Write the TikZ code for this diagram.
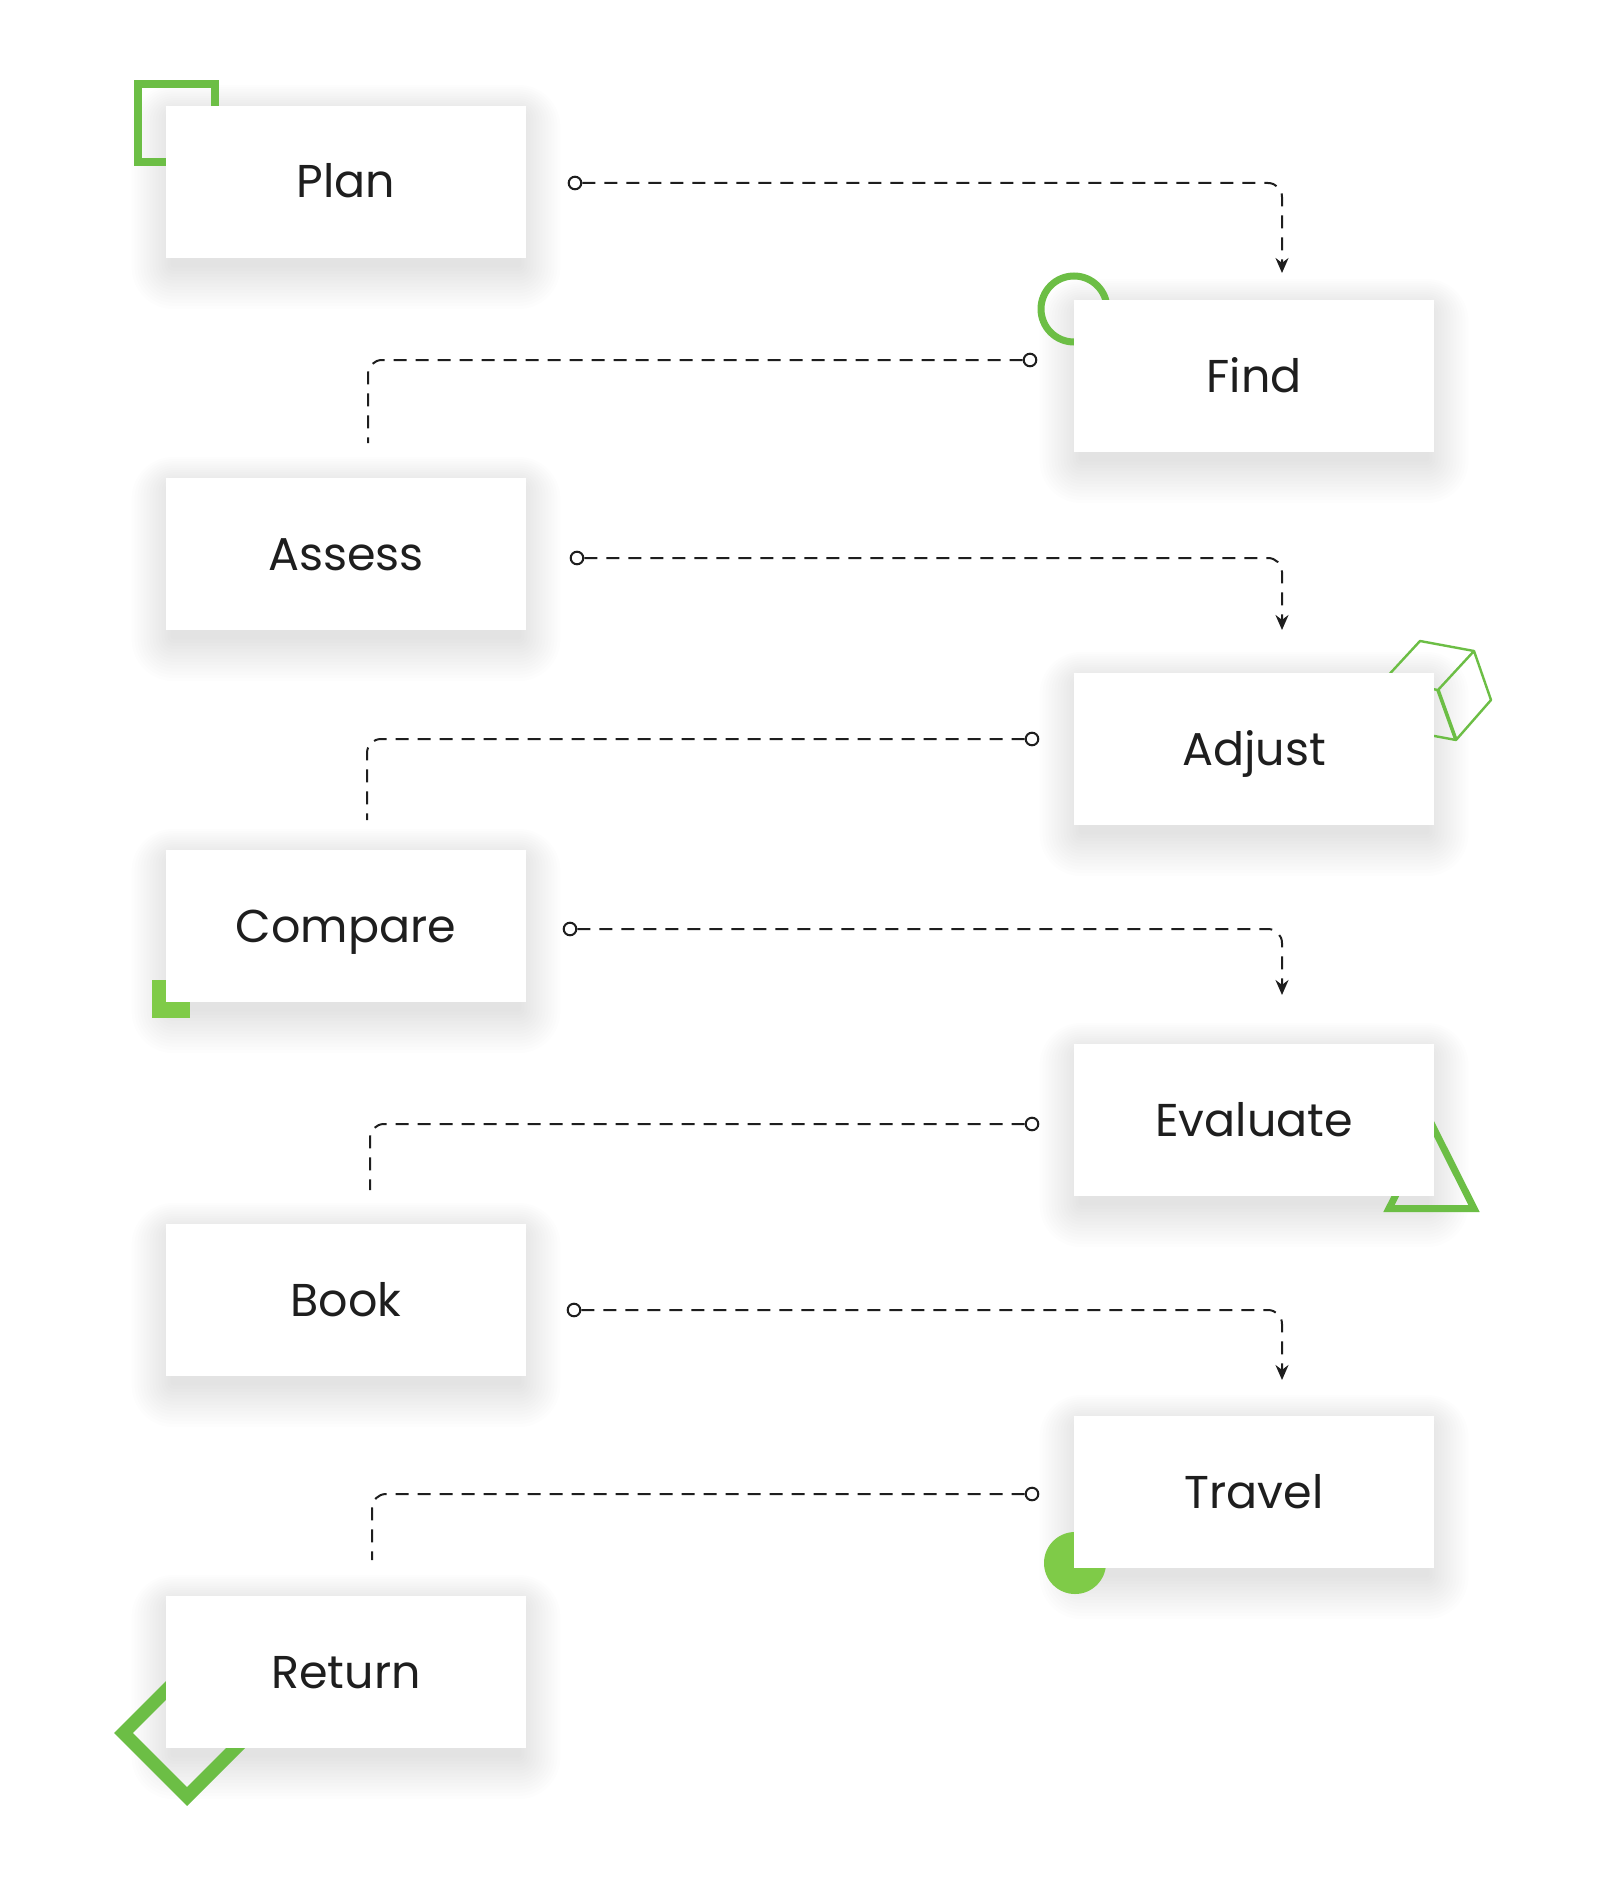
\documentclass[tikz,border=0pt]{standalone}
\usepackage{fontspec}
\setmainfont{Poppins}
\usepackage{tikz}
\usetikzlibrary{arrows.meta,calc,backgrounds}
\definecolor{leaf}{HTML}{6CBE45}
\definecolor{lime}{HTML}{7FCB48}
\definecolor{ink}{HTML}{1E1E1E}
\tikzstyle{Step}=[rectangle, minimum width=180pt, minimum height=76pt, fill=white, text=ink, font=\fontsize{23}{28}\selectfont, text height=16pt, text depth=0pt]
\tikzstyle{Dot}=[circle, draw=ink, fill=white, line width=1pt, inner sep=0pt, minimum size=6.3pt]
\tikzstyle{Link}=[draw=ink, line width=1pt, dash pattern=on 6.5pt off 4.5pt, rounded corners=7pt]
\tikzstyle{Tip}=[-{Stealth[length=7.5pt, width=6.5pt]}]

\begin{document}
\begin{tikzpicture}[x=0.5pt, y=-0.5pt]
    % green shapes behind the boxes
    \draw[leaf, line width=4.25pt] (138,84) rectangle (215,162);
    \draw[leaf, line width=3.5pt] (1074,309) circle (33);
    \draw[leaf, line width=1.2pt, line join=round] (1420,641) -- (1474,651) -- (1491,700) -- (1456,740) -- (1402,730) -- (1384,680) -- cycle
    (1438,690) -- (1474,651) (1438,690) -- (1384,680);
    \draw[leaf, line width=1.8pt] (1438,690) -- (1456,740);
    \fill[lime] (152,980) rectangle (190,1018);
    \draw[leaf, line width=3.5pt, line join=miter] (1389,1208.5) -- (1474,1208.5) -- (1431.5,1124) -- cycle;
    \fill[lime] (1075,1563) circle (31);
    \draw[leaf, line width=6.7pt, line join=miter] (123.5,1733) -- (187,1796.5) -- (250.5,1733) -- (187,1669.5) -- cycle;

    \path
    (346,182) node[Step] (plan) {Plan}
    (1254,376) node[Step] (find) {Find}
    (346,554) node[Step] (assess) {Assess}
    (1254,749) node[Step] (adjust) {Adjust}
    (346,926) node[Step] (compare) {Compare}
    (1254,1120) node[Step] (evaluate) {Evaluate}
    (346,1300) node[Step] (book) {Book}
    (1254,1492) node[Step] (travel) {Travel}
    (346,1672) node[Step] (ret) {Return};

    % page and soft shadows
    \begin{scope}[on background layer]
        \fill[white] (0,0) rectangle (1600,1878);
        \foreach \n in {plan,find,assess,adjust,compare,evaluate,book,travel,ret}
        \foreach \k in {1,...,14}
        \fill[black, opacity=0.006, rounded corners=\k*1.5pt]
        ($(\n.south west)+(-\k*1.5pt+4pt,-3pt-\k*1.6pt)$) rectangle ($(\n.north east)+(\k*1.5pt-4pt,-5pt+\k*1.1pt)$);
    \end{scope}

    \path
    (575,183) node[Dot] (d1) {}
    coordinate (a1) at (1282,273)
    (1030,360) node[Dot] (d2) {}
    coordinate (a2) at (368,443)
    (577,558) node[Dot] (d3) {}
    coordinate (a3) at (1282,630)
    (1032,739) node[Dot] (d4) {}
    coordinate (a4) at (367,820)
    (570,929) node[Dot] (d5) {}
    coordinate (a5) at (1282,995)
    (1032,1124) node[Dot] (d6) {}
    coordinate (a6) at (370,1190)
    (574,1310) node[Dot] (d7) {}
    coordinate (a7) at (1282,1380)
    (1032,1494) node[Dot] (d8) {}
    coordinate (a8) at (372,1560);

    \draw[Link, Tip] (d1) -| (a1);
    \draw[Link] (d2) -| (a2);
    \draw[Link, Tip] (d3) -| (a3);
    \draw[Link] (d4) -| (a4);
    \draw[Link, Tip] (d5) -| (a5);
    \draw[Link] (d6) -| (a6);
    \draw[Link, Tip] (d7) -| (a7);
    \draw[Link] (d8) -| (a8);
\end{tikzpicture}
\end{document}
